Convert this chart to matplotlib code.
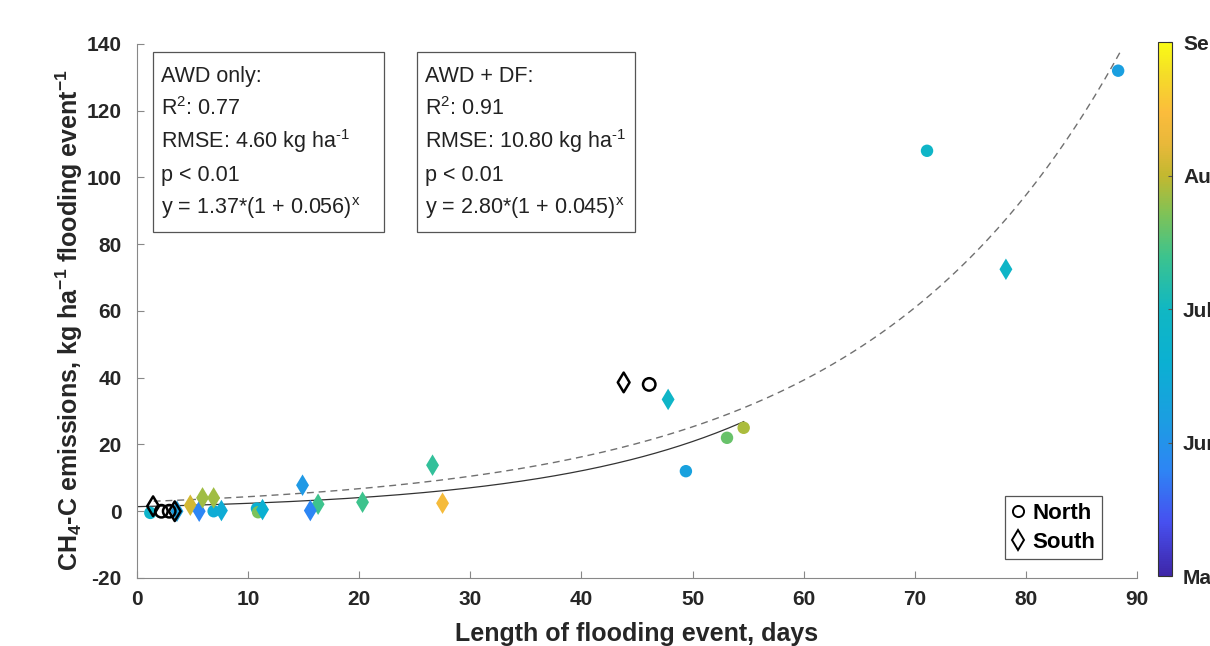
import numpy as np
import matplotlib
matplotlib.use("Agg")
import matplotlib.pyplot as plt
from matplotlib.colors import LinearSegmentedColormap, Normalize
from matplotlib.lines import Line2D
from matplotlib.patches import Rectangle

plt.rcParams['font.family'] = ['Liberation Sans', 'DejaVu Sans']
plt.rcParams['mathtext.fontset'] = 'custom'
plt.rcParams['mathtext.rm'] = 'Liberation Sans'
plt.rcParams['mathtext.bf'] = 'Liberation Sans:bold'
plt.rcParams['mathtext.it'] = 'Liberation Sans:italic'
plt.rcParams['axes.unicode_minus'] = False

# ---- data (month value: 0 = May 1, 4 = Sep 1) ----
north_x = [88.3, 71.1, 49.4, 53.1, 54.6, 1.2, 6.9, 10.8, 10.9]
north_y = [132.0, 108.0, 12.0, 22.0, 25.0, -0.5, 0.0, 0.8, -0.3]
north_m = [1.2, 1.9, 1.25, 2.6, 2.9, 1.8, 1.5, 1.6, 2.7]

south_x = [78.2, 47.8, 26.6, 27.5, 20.3, 16.3, 14.9, 15.6, 3.6, 4.8, 5.6, 5.9, 6.9, 7.6, 11.3]
south_y = [72.5, 33.5, 13.8, 2.4, 2.7, 2.1, 7.8, 0.2, 0.0, 1.8, 0.0, 4.0, 4.0, 0.2, 0.5]
south_m = [1.9, 1.9, 2.3, 3.4, 2.4, 2.4, 1.1, 0.8, 1.2, 3.1, 0.8, 2.85, 2.85, 1.5, 1.6]

open_north_x = [46.1, 2.2, 2.9]
open_north_y = [38.0, 0.0, 0.0]
open_south_x = [43.8, 1.45, 3.4]
open_south_y = [38.6, 1.5, 0.0]

fit1_a, fit1_r = 1.37, 0.056   # AWD only
fit2_a, fit2_r = 2.80, 0.045   # AWD + DF
fit1_range = (0.0, 54.6)
fit2_range = (1.5, 88.5)

box1_lines = ["AWD only:", r"R$^\mathrm{2}$: 0.77", r"RMSE: 4.60 kg ha$^{\text{-1}}$", "p < 0.01",
              r"y = 1.37*(1 + 0.056)$^\mathrm{x}$"]
box2_lines = ["AWD + DF:", r"R$^\mathrm{2}$: 0.91", r"RMSE: 10.80 kg ha$^{\text{-1}}$", "p < 0.01",
              r"y = 2.80*(1 + 0.045)$^\mathrm{x}$"]

cbar_ticks = [0, 1, 2, 3, 4]
cbar_labels = ['May', 'Jun', 'Jul', 'Aug', 'Sep']

# parula-like colormap
parula_pts = [
    (0.00, '#3e26a8'), (0.10, '#4750f0'), (0.20, '#2d86f4'), (0.30, '#1a9fe0'),
    (0.40, '#0bb0d2'), (0.50, '#10b7c3'), (0.60, '#3dc38d'), (0.68, '#80c256'),
    (0.75, '#c2b830'), (0.81, '#e8b83a'), (0.87, '#fbbc3c'), (0.94, '#f5dc28'),
    (1.00, '#f9fb15')]
parula = LinearSegmentedColormap.from_list('parula', parula_pts)
norm = Normalize(0, 4)

fig = plt.figure(figsize=(12.10, 6.46), dpi=100)
ax = fig.add_axes([0.1132, 0.1053, 0.8265, 0.8266])

# fits
xf1 = np.linspace(*fit1_range, 200)
ax.plot(xf1, fit1_a * (1 + fit1_r) ** xf1, color='#333333', lw=0.9, zorder=2)
xf2 = np.linspace(*fit2_range, 300)
ax.plot(xf2, fit2_a * (1 + fit2_r) ** xf2, color='#707070', lw=1.0,
        ls=(0, (5, 3.5)), zorder=2)

ax.scatter(north_x, north_y, c=north_m, cmap=parula, norm=norm, marker='o',
           s=80, edgecolors='none', zorder=3)
ax.scatter(south_x, south_y, c=south_m, cmap=parula, norm=norm, marker='d',
           s=120, edgecolors='none', zorder=3)
ax.scatter(open_north_x, open_north_y, marker='o', s=80, facecolors='none',
           edgecolors='black', linewidths=1.8, zorder=4)
ax.scatter(open_south_x, open_south_y, marker='d', s=100, facecolors='none',
           edgecolors='black', linewidths=1.8, zorder=4)

ax.set_xlim(0, 90)
ax.set_ylim(-20, 140)
ax.set_xticks(range(0, 91, 10))
ax.set_yticks(range(-20, 141, 20))
for s in ['top', 'right']:
    ax.spines[s].set_visible(False)
for s in ['left', 'bottom']:
    ax.spines[s].set_color('#888888')
    ax.spines[s].set_linewidth(0.8)
ax.tick_params(direction='in', length=5, width=0.8, color='#888888',
               labelsize=15)
ax.tick_params(axis='y', pad=11)
ax.tick_params(axis='x', pad=9)
for lab in ax.get_xticklabels() + ax.get_yticklabels():
    lab.set_fontweight('bold')
    lab.set_color('#262626')

fig.text(0.5264, 0.019, 'Length of flooding event, days', fontsize=18,
         fontweight='bold', color='#262626', ha='center', va='center')
fig.text(0.057, 0.505,
         r'CH$_\mathbf{4}$-C emissions, kg ha$^\mathbf{-1}$ flooding event$^\mathbf{-1}$',
         fontsize=18, fontweight='bold', color='#262626', ha='center', va='center',
         rotation=90)

# text boxes (drawn as rectangle + individual lines)
def px_to_data(px, py):
    x = (px - 137) / 1000 * 90
    y = 140 - (py - 44) / 534 * 160
    return x, y

line_centers_py = [75, 108, 141, 174, 207]
for (bx0, bx1, tx, lines) in [(153, 384, 161, box1_lines), (417, 635, 425, box2_lines)]:
    x0, y0 = px_to_data(bx0, 232)
    x1, y1 = px_to_data(bx1, 52)
    ax.add_patch(Rectangle((x0, y0), x1 - x0, y1 - y0, facecolor='white',
                           edgecolor='#555555', lw=0.9, zorder=5))
    for pyc, txt in zip(line_centers_py, lines):
        xd, yd = px_to_data(tx, pyc + 7)
        ax.text(xd, yd, txt, fontsize=15.5, va='baseline', ha='left',
                color='#222222', zorder=6)

# legend
handles = [Line2D([], [], marker='o', ls='none', mfc='none', mec='black', ms=8, mew=1.4),
           Line2D([], [], marker='d', ls='none', mfc='none', mec='black', ms=10, mew=1.4)]
leg = ax.legend(handles, ['North', 'South'], loc='lower right',
                bbox_to_anchor=(0.965, 0.035), prop={'weight': 'bold', 'size': 16},
                handlelength=0.6, handletextpad=0.35, borderpad=0.3,
                labelspacing=0.35, borderaxespad=0, fancybox=False,
                edgecolor='#555555', framealpha=1)
leg.get_frame().set_linewidth(0.9)

# colorbar
cax = fig.add_axes([0.957, 0.1053 + 0.003, 0.0116, 0.8266])
sm = matplotlib.cm.ScalarMappable(norm=norm, cmap=parula)
cb = fig.colorbar(sm, cax=cax, ticks=cbar_ticks)
cb.ax.set_yticklabels(cbar_labels)
cb.outline.set_edgecolor('#333333')
cb.outline.set_linewidth(0.8)
cax.tick_params(direction='in', length=3, width=0.8, color='#555555',
                labelsize=15, pad=8)
for lab in cax.get_yticklabels():
    lab.set_fontweight('bold')
    lab.set_color('#262626')

fig.savefig('out.png', dpi=100)
